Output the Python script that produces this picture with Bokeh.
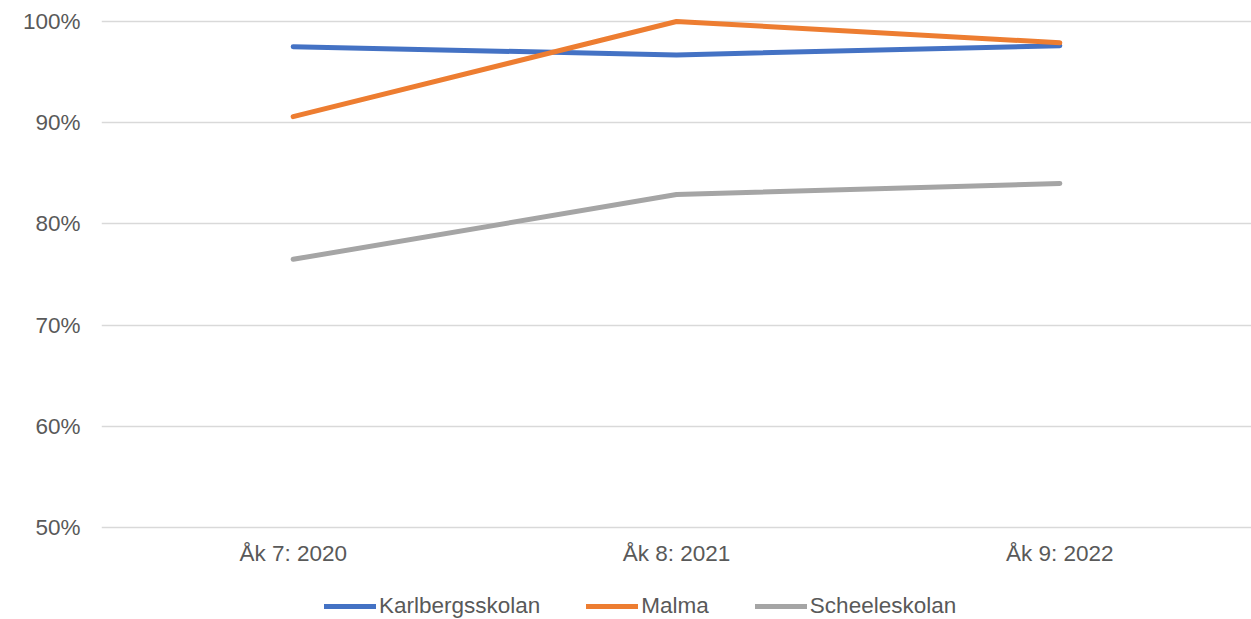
from bokeh.plotting import figure
from bokeh.models import FactorRange, Range1d, Legend, LegendItem, NumeralTickFormatter, FixedTicker
from bokeh.embed import file_html
from bokeh.resources import INLINE

categories = ["Åk 7: 2020", "Åk 8: 2021", "Åk 9: 2022"]
series_names = ["Karlbergsskolan", "Malma", "Scheeleskolan"]
karlberg = [0.975, 0.967, 0.976]
malma = [0.906, 1.000, 0.979]
scheele = [0.765, 0.829, 0.840]
y_ticks = [0.5, 0.6, 0.7, 0.8, 0.9, 1.0]
colors = ["#4472C4", "#ED7D31", "#A5A5A5"]

FONT = "Liberation Sans"
FS = "22.5px"
TXT = "#595959"

p = figure(width=1251, height=619, output_backend="svg", toolbar_location=None,
           x_range=FactorRange(*categories, range_padding=0),
           y_range=Range1d(0.409091, 1.020751),
           min_border_left=101, min_border_right=0, min_border_top=0, min_border_bottom=0)
p.outline_line_color = None
p.background_fill_color = "white"
p.border_fill_color = "white"

p.xgrid.grid_line_color = None
p.ygrid.grid_line_color = "#D9D9D9"
p.ygrid.grid_line_width = 1.5
p.yaxis.ticker = FixedTicker(ticks=y_ticks)
p.yaxis.formatter = NumeralTickFormatter(format="0%")
p.xaxis.fixed_location = 0.497036

for ax in (p.xaxis, p.yaxis):
    ax.axis_line_color = None
    ax.major_tick_line_color = None
    ax.minor_tick_line_color = None
    ax.major_tick_out = 0
    ax.major_tick_in = 0
    ax.major_label_text_font = FONT
    ax.major_label_text_font_size = FS
    ax.major_label_text_color = TXT
p.yaxis.major_label_standoff = 21
p.xaxis.major_label_standoff = 11

renderers = []
for vals, c in zip([karlberg, malma, scheele], colors):
    r = p.line(categories, vals, line_color=c, line_width=5, line_cap="round", line_join="round")
    renderers.append(r)

legend = Legend(items=[LegendItem(label=n, renderers=[r]) for n, r in zip(series_names, renderers)],
                orientation="horizontal", location=(223, 0),
                padding=0, margin=0, spacing=46, label_standoff=3,
                glyph_width=52, glyph_height=24, label_height=24,
                label_text_font=FONT, label_text_font_size=FS, label_text_color=TXT,
                border_line_color=None, background_fill_alpha=0)
p.add_layout(legend, "center")

open("out.html", "w").write(file_html(p, INLINE))
